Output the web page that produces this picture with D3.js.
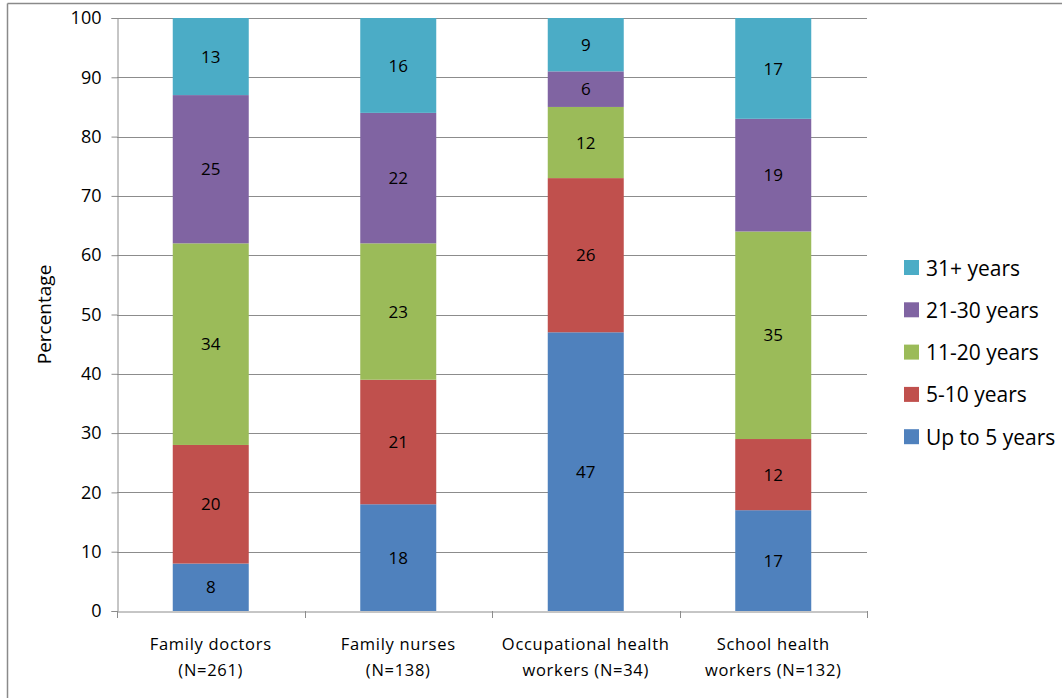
<!DOCTYPE html>
<html>
<head>
<meta charset="utf-8">
<script src="https://cdn.jsdelivr.net/npm/d3@7"></script>
<style>
  body { margin: 0; background: #fff; }
  text { font-family: "Open Sans", sans-serif; fill: #000; }
</style>
</head>
<body>
<div id="chart_wrapper"></div>
<script>
// categories (two-line labels)
const categories = ["Family doctors", "Family nurses", "Occupational health workers", "School health workers"]
const categoryLines = [
    ["Family doctors", "(N=261)"],
    ["Family nurses", "(N=138)"],
    ["Occupational health", "workers (N=34)"],
    ["School health", "workers (N=132)"]
]
// series, bottom to top
const seriesNames = ["Up to 5 years", "5-10 years", "11-20 years", "21-30 years", "31+ years"]
const seriesColors = ["#4F81BD", "#C0504D", "#9BBB59", "#8064A2", "#4BACC6"]
const upTo5 = [8, 18, 47, 17]
const y5to10 = [20, 21, 26, 12]
const y11to20 = [34, 23, 12, 35]
const y21to30 = [25, 22, 6, 19]
const y31plus = [13, 16, 9, 17]
const yTicks = [0, 10, 20, 30, 40, 50, 60, 70, 80, 90, 100]

const seriesValues = [upTo5, y5to10, y11to20, y21to30, y31plus]

const W = 1062, H = 698
const margin = {left: 117, right: 1062 - 867, top: 18, bottom: 698 - 611}

const svg = d3.select('#chart_wrapper').append('svg')
    .attr('width', W)
    .attr('height', H)

// outer frame (only top/left visible in the shot)
svg.append('line').attr('x1', 7.5).attr('x2', W).attr('y1', 3.5).attr('y2', 3.5)
    .attr('stroke', '#8a8a8a').attr('stroke-width', 1.5)
svg.append('line').attr('x1', 7.5).attr('x2', 7.5).attr('y1', 3.5).attr('y2', H)
    .attr('stroke', '#8a8a8a').attr('stroke-width', 1.5)

const x = d3.scaleBand()
    .domain(categories)
    .range([margin.left, W - margin.right])
    .padding(0)

const y = d3.scaleLinear()
    .domain([0, 100])
    .range([H - margin.bottom, margin.top])

// gridlines
svg.append('g').selectAll('line')
    .data(yTicks.filter(t => t > 0))
    .join('line')
    .attr('x1', margin.left).attr('x2', W - margin.right)
    .attr('y1', d => Math.round(y(d)) + 0.5).attr('y2', d => Math.round(y(d)) + 0.5)
    .attr('stroke', '#8c8c8c')

// y axis
const yAxis = svg.append('g')
    .attr('transform', `translate(${margin.left + 0.5},0)`)
    .call(d3.axisLeft(y).tickValues(yTicks).tickSize(6).tickPadding(10))
yAxis.select('.domain').attr('stroke', '#8c8c8c')
yAxis.selectAll('.tick line').attr('stroke', '#8c8c8c')
yAxis.selectAll('.tick text').style('font-size', '18px').style('font-family', '"Open Sans", sans-serif')

// stacked bars
const stackData = categories.map((c, i) => {
    const row = {cat: c}
    seriesNames.forEach((s, j) => { row[s] = seriesValues[j][i] })
    return row
})
const stack = d3.stack().keys(seriesNames)
const layers = stack(stackData)

const barW = 76
layers.forEach((layer, j) => {
    const g = svg.append('g')
    g.selectAll('rect')
        .data(layer)
        .join('rect')
        .attr('x', d => x(d.data.cat) + x.bandwidth() / 2 - barW / 2)
        .attr('y', d => y(d[1]))
        .attr('width', barW)
        .attr('height', d => y(d[0]) - y(d[1]))
        .attr('fill', seriesColors[j])
    g.selectAll('text')
        .data(layer)
        .join('text')
        .attr('x', d => x(d.data.cat) + x.bandwidth() / 2)
        .attr('y', d => (y(d[0]) + y(d[1])) / 2)
        .attr('dy', '0.36em')
        .attr('text-anchor', 'middle')
        .style('font-size', '17px')
        .text(d => d[1] - d[0])
})

// x axis
const xAxis = svg.append('g')
    .attr('transform', `translate(0,${y(0) + 0.5})`)
    .call(d3.axisBottom(x).tickSize(0).tickFormat(''))
xAxis.select('.domain').attr('stroke', '#8c8c8c')
// category separators
svg.append('g').selectAll('line')
    .data(categories.concat(['end']))
    .join('line')
    .attr('x1', (d, i) => i < categories.length ? Math.round(x(d)) + 0.5 : W - margin.right + 0.5)
    .attr('x2', (d, i) => i < categories.length ? Math.round(x(d)) + 0.5 : W - margin.right + 0.5)
    .attr('y1', y(0)).attr('y2', y(0) + 7)
    .attr('stroke', '#8c8c8c')

svg.append('g').selectAll('text')
    .data(categories)
    .join('text')
    .attr('text-anchor', 'middle')
    .attr('x', d => x(d) + x.bandwidth() / 2)
    .attr('y', y(0) + 39)
    .style('font-size', '16.5px')
    .style('letter-spacing', '0.7px')
    .each(function (d, i) {
        const t = d3.select(this)
        categoryLines[i].forEach((line, k) => {
            t.append('tspan')
                .attr('x', x(d) + x.bandwidth() / 2)
                .attr('dy', k === 0 ? 0 : 26)
                .text(line)
        })
    })

// y title
svg.append('text')
    .attr('transform', `translate(51,${(y(0) + y(100)) / 2}) rotate(-90)`)
    .attr('text-anchor', 'middle')
    .style('font-size', '19px')
    .text('Percentage')

// legend, top item is last series
const legendItems = seriesNames.map((s, j) => ({name: s, color: seriesColors[j]})).reverse()
const legend = svg.append('g').attr('transform', 'translate(904,268)')
legendItems.forEach((d, i) => {
    const g = legend.append('g').attr('transform', `translate(0,${i * 42.3})`)
    g.append('rect').attr('x', 0).attr('y', -8).attr('width', 15).attr('height', 15).attr('fill', d.color)
    g.append('text').attr('x', 22).attr('dy', '0.36em').style('font-size', '21px').text(d.name)
})
</script>
</body>
</html>
